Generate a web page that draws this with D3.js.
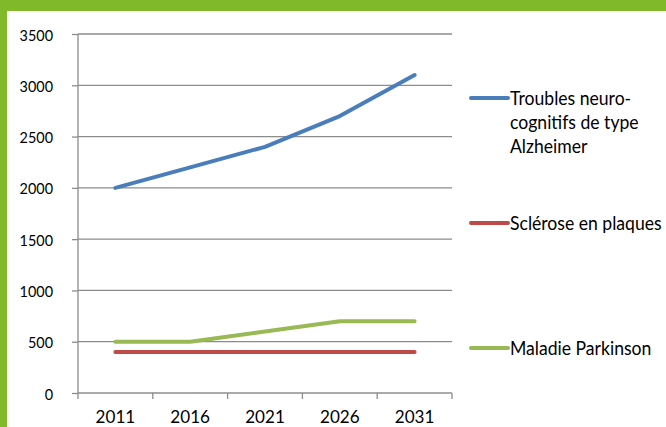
<!DOCTYPE html>
<html><head><meta charset="utf-8">
<script src="https://cdn.jsdelivr.net/npm/d3@7"></script>
<style>html,body{margin:0;padding:0;background:#fff;}svg{display:block;}</style>
</head><body>
<svg id="c" width="666" height="427"></svg>
<script>
const years = ["2011","2016","2021","2026","2031"];
const alzheimer = [2000, 2200, 2400, 2700, 3100];
const sclerose = [400, 400, 400, 400, 400];
const parkinson = [500, 500, 600, 700, 700];
const yTicks = [0, 500, 1000, 1500, 2000, 2500, 3000, 3500];
const seriesNames = [["Troubles neuro-", "cognitifs de type", "Alzheimer"], ["Sclérose en plaques"], ["Maladie Parkinson"]];
const seriesColors = ["#4a7ebb", "#be4b48", "#98b954"];

const svg = d3.select("#c");
const font = "Lato, 'Open Sans', sans-serif";
svg.append("rect").attr("x",0).attr("y",0).attr("width",666).attr("height",11).attr("fill","#80b929");
svg.append("rect").attr("x",0).attr("y",0).attr("width",7).attr("height",427).attr("fill","#80b929");

const x = d3.scaleBand().domain(years).range([78, 452]);
const y = d3.scaleLinear().domain([0, 3500]).range([393, 34]);
const grey = "#8c8c8c";

// gridlines
svg.append("g").selectAll("line").data(yTicks.filter(d=>d>0)).join("line")
  .attr("x1",78).attr("x2",452).attr("y1",d=>y(d)).attr("y2",d=>y(d))
  .attr("stroke",grey).attr("stroke-width",1.3);

const sy = 0.9;
const ya = svg.append("g").attr("transform","translate(78,0)")
  .call(d3.axisLeft(y).tickValues(yTicks).tickFormat(d3.format("d")).tickSize(6));
ya.select(".domain").attr("stroke",grey).attr("stroke-width",1.3).attr("d","M0,"+y(3500)+"V"+y(0));
ya.selectAll(".tick line").attr("stroke",grey).attr("stroke-width",1.3);
ya.selectAll("text").attr("font-family",font).attr("font-size",16).attr("fill","#000")
  .attr("x",-25/sy).attr("dy",0).attr("y",6).attr("transform","scale("+sy+",1)");

const sx = 0.95;
const xa = svg.append("g").attr("transform","translate(0,393)")
  .call(d3.axisBottom(x).tickSize(0));
xa.select(".domain").attr("stroke",grey).attr("stroke-width",1.3).attr("d","M78,0H452");
xa.selectAll("text").attr("font-family",font).attr("font-size",18).attr("fill","#000")
  .attr("y",30).attr("dy",0).attr("transform","scale("+sx+",1)");
// category boundary ticks
svg.append("g").selectAll("line").data(d3.range(years.length+1)).join("line")
  .attr("x1",i=>78+i*x.step()).attr("x2",i=>78+i*x.step())
  .attr("y1",393).attr("y2",399).attr("stroke",grey).attr("stroke-width",1.3);

const data = [alzheimer, sclerose, parkinson];
const line = d3.line().x((d,i)=>x(years[i])+x.bandwidth()/2).y(d=>y(d));
data.forEach((s,k)=>{
  svg.append("path").attr("d",line(s)).attr("fill","none")
    .attr("stroke",seriesColors[k]).attr("stroke-width",4).attr("stroke-linecap","round").attr("stroke-linejoin","round");
});

// legend
const legY = [98, 223, 348];
const sl = 0.88;
seriesNames.forEach((lines,k)=>{
  const g = svg.append("g");
  g.append("line").attr("x1",471).attr("x2",508).attr("y1",legY[k]).attr("y2",legY[k])
    .attr("stroke",seriesColors[k]).attr("stroke-width",4).attr("stroke-linecap","round");
  lines.forEach((t,j)=>{
    g.append("text").attr("transform","translate(510,"+(legY[k]+7+j*24)+") scale("+sl+",1)").text(t)
      .attr("font-family",font).attr("font-size",20).attr("fill","#000");
  });
});
</script>
</body></html>
